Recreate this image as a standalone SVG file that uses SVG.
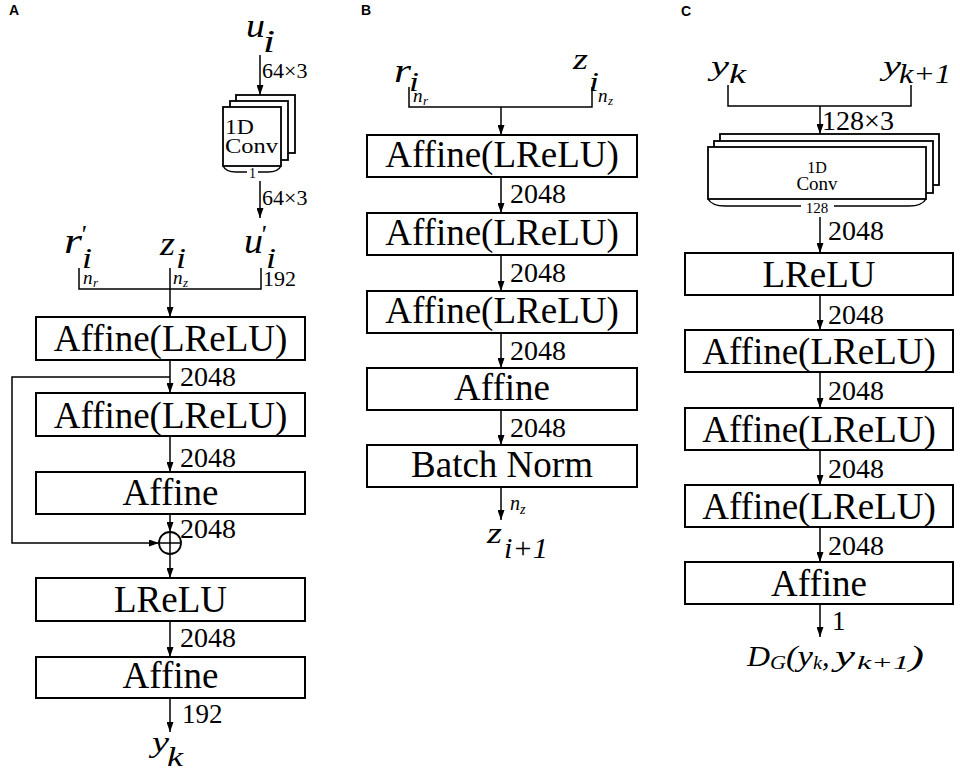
<svg xmlns="http://www.w3.org/2000/svg" width="960" height="774" viewBox="0 0 960 774" font-family="'Liberation Serif', 'DejaVu Serif', serif">
  <defs>
    <marker id="ah" viewBox="0 0 10 7" refX="10" refY="3.5" markerWidth="10" markerHeight="7" orient="auto" markerUnits="userSpaceOnUse">
      <path d="M0,0 L10,3.5 L0,7 z" fill="#000"/>
    </marker>
    <style>
      .box { fill: #fff; stroke: #000; stroke-width: 2; }
      .cv { fill: #fff; stroke: #000; stroke-width: 1.8; }
      .ln { fill: none; stroke: #000; stroke-width: 1.5; }
      .arr { marker-end: url(#ah); }
      .bt { font-size: 37px; text-anchor: middle; }
      .num { font-size: 28px; }
      .m { font-style: italic; }
      .lab { font-family: 'Liberation Sans', Arial, sans-serif; font-weight: bold; font-size: 14px; }
    </style>
  </defs>

  <!-- panel letters -->
  <text class="lab" x="9" y="15">A</text>
  <text class="lab" x="361" y="15">B</text>
  <text class="lab" x="681" y="16">C</text>

  <!-- ===== Panel A: generator ===== -->
  <g id="a-input-u">
    <text class="m" x="246" y="37" font-size="34" textLength="19" lengthAdjust="spacingAndGlyphs">u</text>
    <text class="m" x="263" y="52" font-size="31" textLength="12" lengthAdjust="spacingAndGlyphs">i</text>
  </g>
  <g id="a-conv">
    <rect class="cv" x="236" y="95" width="59" height="58"/>
    <rect class="cv" x="230" y="101" width="58" height="59"/>
    <rect class="cv" x="223" y="107" width="58" height="59"/>
    <text x="225" y="134" font-size="22" textLength="29" lengthAdjust="spacingAndGlyphs">1D</text>
    <text x="225" y="153" font-size="20" textLength="53" lengthAdjust="spacingAndGlyphs">Conv</text>
    <path class="ln" d="M223,166 Q226,172 236,172 H247 M258,172 H268 Q278,172 281,166"/>
    <text x="252.5" y="178" font-size="14" text-anchor="middle">1</text>
  </g>
  <g id="a-inputs">
    <text class="m" x="64" y="253" font-size="36" textLength="18" lengthAdjust="spacingAndGlyphs">r</text>
    <text class="m" x="80" y="243" font-size="26">'</text>
    <text class="m" x="82" y="268" font-size="29" textLength="10" lengthAdjust="spacingAndGlyphs">i</text>
    <text class="m" x="160" y="255" font-size="34" textLength="15" lengthAdjust="spacingAndGlyphs">z</text>
    <text class="m" x="176" y="268" font-size="29" textLength="10" lengthAdjust="spacingAndGlyphs">i</text>
    <text class="m" x="244" y="253" font-size="35" textLength="19" lengthAdjust="spacingAndGlyphs">u</text>
    <text class="m" x="260" y="243" font-size="26">'</text>
    <text class="m" x="266" y="268" font-size="29" textLength="10" lengthAdjust="spacingAndGlyphs">i</text>
    <text class="m" x="83" y="284" font-size="19">n</text>
    <text class="m" x="93" y="287" font-size="13">r</text>
    <text class="m" x="173" y="284" font-size="19">n</text>
    <text class="m" x="183" y="287" font-size="13">z</text>
    <text x="263" y="286" font-size="22">192</text>
  </g>
  <g id="a-affine-lrelu-1">
    <rect class="box" x="36" y="317" width="269" height="43"/>
    <text class="bt" x="170.5" y="351">Affine(LReLU)</text>
  </g>
  <g id="a-affine-lrelu-2">
    <rect class="box" x="36" y="393" width="269" height="43"/>
    <text class="bt" x="170.5" y="428">Affine(LReLU)</text>
  </g>
  <g id="a-affine-1">
    <rect class="box" x="36" y="472" width="269" height="42"/>
    <text class="bt" x="170.5" y="505">Affine</text>
  </g>
  <g id="a-add">
    <circle cx="170" cy="543" r="11" fill="#fff" stroke="#000" stroke-width="1.8"/>
    <path class="ln" d="M159,543 H181 M170,532 V554"/>
  </g>
  <g id="a-lrelu">
    <rect class="box" x="36" y="578" width="269" height="43"/>
    <text class="bt" x="170.5" y="612">LReLU</text>
  </g>
  <g id="a-affine-2">
    <rect class="box" x="36" y="657" width="269" height="41"/>
    <text class="bt" x="170.5" y="688">Affine</text>
  </g>
  <g id="a-output">
    <text class="m" x="152" y="752" font-size="30" textLength="17" lengthAdjust="spacingAndGlyphs">y</text>
    <text class="m" x="167" y="766" font-size="27" textLength="16" lengthAdjust="spacingAndGlyphs">k</text>
  </g>

  <!-- ===== Panel B ===== -->
  <g id="b-inputs">
    <text class="m" x="394" y="82" font-size="34" textLength="17" lengthAdjust="spacingAndGlyphs">r</text>
    <text class="m" x="409" y="91" font-size="27" textLength="10" lengthAdjust="spacingAndGlyphs">i</text>
    <text class="m" x="573" y="69" font-size="30" textLength="15" lengthAdjust="spacingAndGlyphs">z</text>
    <text class="m" x="589" y="91" font-size="27" textLength="10" lengthAdjust="spacingAndGlyphs">i</text>
    <text class="m" x="413" y="102" font-size="19">n</text>
    <text class="m" x="423" y="105" font-size="13">r</text>
    <text class="m" x="598" y="102" font-size="19">n</text>
    <text class="m" x="608" y="105" font-size="13">z</text>
  </g>
  <g id="b-affine-lrelu-1">
    <rect class="box" x="367" y="135" width="270" height="42"/>
    <text class="bt" x="502" y="167">Affine(LReLU)</text>
  </g>
  <g id="b-affine-lrelu-2">
    <rect class="box" x="367" y="213" width="270" height="42"/>
    <text class="bt" x="502" y="245">Affine(LReLU)</text>
  </g>
  <g id="b-affine-lrelu-3">
    <rect class="box" x="367" y="291" width="270" height="42"/>
    <text class="bt" x="502" y="323">Affine(LReLU)</text>
  </g>
  <g id="b-affine">
    <rect class="box" x="367" y="368" width="270" height="42"/>
    <text class="bt" x="502" y="400">Affine</text>
  </g>
  <g id="b-batchnorm">
    <rect class="box" x="367" y="445" width="270" height="42"/>
    <text class="bt" x="502" y="477">Batch Norm</text>
  </g>
  <g id="b-output">
    <text class="m" x="510" y="510" font-size="20">n</text>
    <text class="m" x="520" y="514" font-size="14">z</text>
    <text class="m" x="487" y="543" font-size="30" textLength="15" lengthAdjust="spacingAndGlyphs">z</text>
    <text class="m" x="504" y="558" font-size="30" textLength="44" lengthAdjust="spacingAndGlyphs">i+1</text>
  </g>

  <!-- ===== Panel C: discriminator ===== -->
  <g id="c-inputs">
    <text class="m" x="711" y="75" font-size="28" textLength="18" lengthAdjust="spacingAndGlyphs">y</text>
    <text class="m" x="729" y="83" font-size="27" textLength="17" lengthAdjust="spacingAndGlyphs">k</text>
    <text class="m" x="883" y="75" font-size="28" textLength="18" lengthAdjust="spacingAndGlyphs">y</text>
    <text class="m" x="899" y="83" font-size="27" textLength="52" lengthAdjust="spacingAndGlyphs">k+1</text>
  </g>
  <g id="c-conv">
    <rect class="cv" x="720" y="134" width="219" height="51"/>
    <rect class="cv" x="714" y="141" width="219" height="52"/>
    <rect class="cv" x="708" y="147" width="218" height="52"/>
    <text x="817" y="173" font-size="16" text-anchor="middle">1D</text>
    <text x="817" y="190" font-size="19" text-anchor="middle">Conv</text>
    <path class="ln" d="M708,199 Q712,206 725,206 H801 M834,206 H909 Q922,206 926,199"/>
    <text x="817" y="213" font-size="15" text-anchor="middle">128</text>
  </g>
  <g id="c-lrelu">
    <rect class="box" x="685" y="253" width="268" height="42"/>
    <text class="bt" x="819" y="287">LReLU</text>
  </g>
  <g id="c-affine-lrelu-1">
    <rect class="box" x="685" y="330" width="268" height="42"/>
    <text class="bt" x="819" y="364">Affine(LReLU)</text>
  </g>
  <g id="c-affine-lrelu-2">
    <rect class="box" x="685" y="408" width="268" height="42"/>
    <text class="bt" x="819" y="442">Affine(LReLU)</text>
  </g>
  <g id="c-affine-lrelu-3">
    <rect class="box" x="685" y="485" width="268" height="42"/>
    <text class="bt" x="819" y="519">Affine(LReLU)</text>
  </g>
  <g id="c-affine">
    <rect class="box" x="685" y="562" width="268" height="42"/>
    <text class="bt" x="819" y="596">Affine</text>
  </g>
  <g id="c-output">
    <text class="m" x="747" y="666" font-size="30" textLength="23" lengthAdjust="spacingAndGlyphs">D</text>
    <text class="m" x="770" y="669" font-size="19" textLength="16" lengthAdjust="spacingAndGlyphs">G</text>
    <text class="m" x="786" y="666" font-size="30" textLength="27" lengthAdjust="spacingAndGlyphs">(y</text>
    <text class="m" x="813" y="669" font-size="19" textLength="9" lengthAdjust="spacingAndGlyphs">k</text>
    <text class="m" x="822" y="666" font-size="30">,</text>
    <text class="m" x="835" y="666" font-size="30" textLength="20" lengthAdjust="spacingAndGlyphs">y</text>
    <text class="m" x="857" y="669" font-size="19" textLength="52" lengthAdjust="spacingAndGlyphs">k+1</text>
    <text class="m" x="909" y="666" font-size="30" textLength="15" lengthAdjust="spacingAndGlyphs">)</text>
  </g>

  <!-- ===== connectors ===== -->
  <g id="connectors">
    <!-- panel A -->
    <path class="ln arr" d="M260,55 V95"/>
    <path class="ln arr" d="M260,181 V218"/>
    <path class="ln" d="M79,268 V289 H261 V268"/>
    <path class="ln arr" d="M170,268 V317"/>
    <path class="ln arr" d="M170,360 V393"/>
    <path class="ln arr" d="M170,436 V472"/>
    <path class="ln arr" d="M170,514 V532"/>
    <path class="ln arr" d="M170,377 H12 V543 H159"/>
    <path class="ln arr" d="M170,554 V578"/>
    <path class="ln arr" d="M170,621 V657"/>
    <path class="ln arr" d="M170,698 V732"/>
    <!-- panel B -->
    <path class="ln" d="M409,87 V107 H592 V87"/>
    <path class="ln arr" d="M501,107 V135"/>
    <path class="ln arr" d="M501,177 V213"/>
    <path class="ln arr" d="M501,255 V291"/>
    <path class="ln arr" d="M501,333 V368"/>
    <path class="ln arr" d="M501,410 V445"/>
    <path class="ln arr" d="M501,487 V520"/>
    <!-- panel C -->
    <path class="ln" d="M728,85 V106 H911 V85"/>
    <path class="ln arr" d="M820,106 V134"/>
    <path class="ln arr" d="M820,217 V253"/>
    <path class="ln arr" d="M820,295 V330"/>
    <path class="ln arr" d="M820,372 V408"/>
    <path class="ln arr" d="M820,450 V485"/>
    <path class="ln arr" d="M820,527 V562"/>
    <path class="ln arr" d="M820,604 V637"/>
  </g>

  <!-- edge sizes -->
  <g id="edge-labels">
    <text x="262" y="78" font-size="22">64×3</text>
    <text x="262" y="205" font-size="22">64×3</text>
    <text class="num" x="180" y="386">2048</text>
    <text class="num" x="180" y="467">2048</text>
    <text class="num" x="180" y="538">2048</text>
    <text class="num" x="180" y="647">2048</text>
    <text x="182" y="723" font-size="27">192</text>
    <text class="num" x="510" y="203">2048</text>
    <text class="num" x="510" y="282">2048</text>
    <text class="num" x="510" y="360">2048</text>
    <text class="num" x="510" y="437">2048</text>
    <text x="822" y="130" font-size="27" textLength="72" lengthAdjust="spacingAndGlyphs">128×3</text>
    <text class="num" x="828" y="240" font-size="30">2048</text>
    <text class="num" x="828" y="324">2048</text>
    <text class="num" x="828" y="400">2048</text>
    <text class="num" x="828" y="478">2048</text>
    <text class="num" x="828" y="555">2048</text>
    <text x="832" y="630" font-size="27">1</text>
  </g>
</svg>
